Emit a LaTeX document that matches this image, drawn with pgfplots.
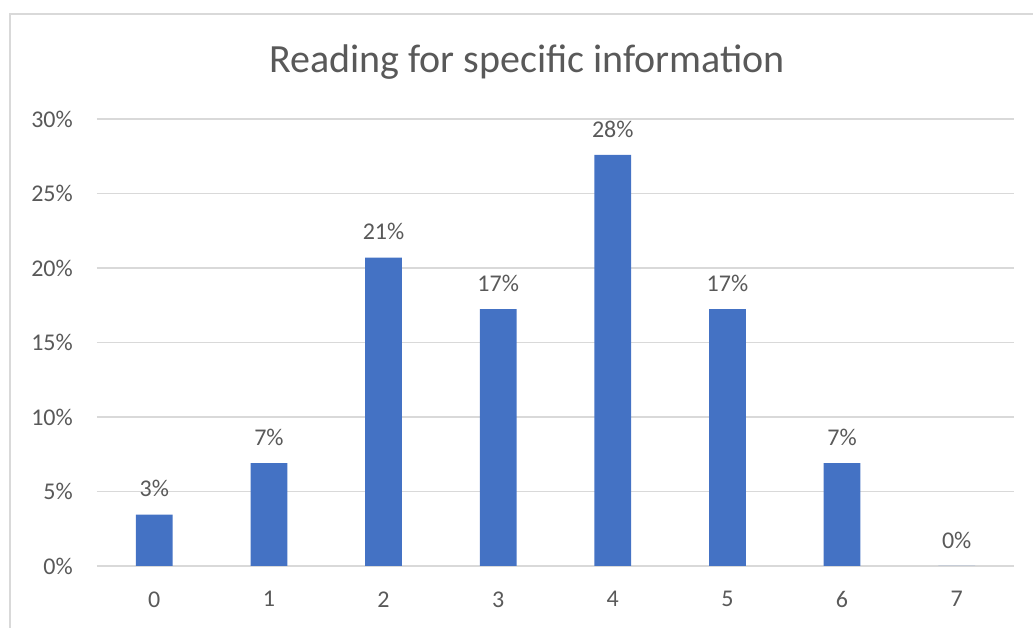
\documentclass[border=0pt]{standalone}
\usepackage{pgfplots}
\pgfplotsset{compat=1.18}
\usepackage{fontspec}
\setmainfont{Carlito}
\definecolor{barblue}{HTML}{4472C4}
\definecolor{txtgray}{HTML}{595959}
\definecolor{gridgray}{HTML}{D9D9D9}
\begin{document}
\begin{tikzpicture}[x=1pt,y=1pt]
\path[use as bounding box] (-97,-62) rectangle (936,566);
\draw[gridgray,line width=1.5pt] (-87,-62) -- (-87,552) -- (936,552);
\node[txtgray,font=\fontsize{40}{48}\selectfont] at (430,504) {Reading for specific information};
\begin{axis}[
  at={(0,0)}, anchor=south west,
  scale only axis, width=917pt, height=447pt,
  xmin=-0.5, xmax=7.5, ymin=0, ymax=30,
  xtick={0,...,7}, ytick={0,5,...,30},
  yticklabels={0\%,5\%,10\%,15\%,20\%,25\%,30\%},
  /pgf/number format/assume math mode=true,
  ymajorgrids, grid style={gridgray,line width=1.5pt},
  axis line style={draw=none},
  major tick length=0pt,
  tick label style={txtgray,font=\fontsize{24}{28}\selectfont},
  xticklabel style={yshift=-22pt},
  yticklabel style={anchor=east,xshift=-24pt,inner sep=0pt},
  ybar, bar width=36.7pt,
  nodes near coords={\pgfmathprintnumber[fixed,precision=0]{\pgfplotspointmeta}\%},
  nodes near coords style={txtgray,font=\fontsize{24}{28}\selectfont,yshift=14pt},
  clip=false,
]
\addplot[fill=barblue,draw=none] coordinates {
(0,3.45) (1,6.90) (2,20.69) (3,17.24) (4,27.59) (5,17.24) (6,6.90) (7,0)
};
\end{axis}
\end{tikzpicture}
\end{document}
